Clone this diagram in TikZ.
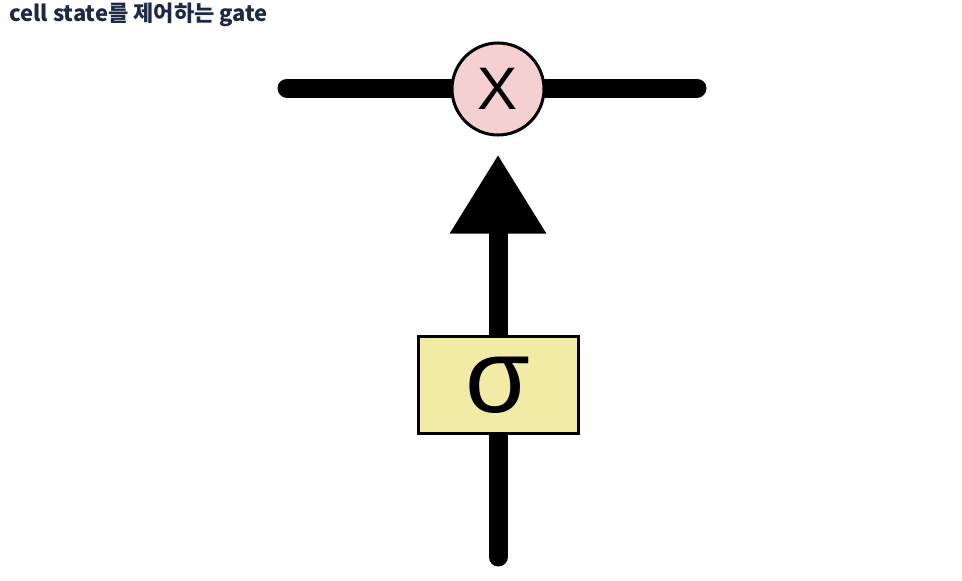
\documentclass[tikz,border=0pt]{standalone}
\usepackage{fontspec}
\setmainfont{Noto Sans CJK KR}
\newfontfamily\glyphfont{Liberation Sans}
\usepackage{xcolor}
\definecolor{titleink}{RGB}{30,42,68}
\definecolor{mulpink}{RGB}{244,208,208}
\definecolor{gateyellow}{RGB}{242,235,166}
\usepackage{tikz}
\usetikzlibrary{arrows.meta,positioning,backgrounds}
\tikzset{
  gate_title/.style={anchor=north west,inner sep=0pt,text=titleink,
    font=\fontsize{22}{25}\selectfont\bfseries},
  gate_op/.style={circle,draw=black,line width=3pt,fill=mulpink,minimum size=92pt,
    inner sep=0pt,font=\glyphfont\fontsize{60}{60}\selectfont},
  gate_layer/.style={rectangle,draw=black,line width=3pt,fill=gateyellow,
    minimum width=160pt,minimum height=97pt,inner sep=0pt,
    font=\glyphfont\fontsize{105}{105}\selectfont},
  flow/.style={line width=19pt,draw=black,line cap=round},
  flow_arr/.style={line width=19pt,draw=black,-{Triangle[length=79pt,width=91pt]}},
}

\begin{document}
\begin{tikzpicture}[x=1pt,y=-1pt]
  \useasboundingbox (0,0) rectangle (962,581);
  \node (title) [gate_title] at (9,3) {cell state를 제어하는 gate};
  \node (mul) [gate_op] at (498,89) {X};
  \node (gate)[gate_layer] at (498,385) {σ};
  \coordinate (cl) at (287,88);
  \coordinate (cr) at (697,88);
  \coordinate (in) at (498,557);
  \begin{pgfonlayer}{background}
    \draw[flow](cl)--(cr);
    \draw[flow](in)--(gate.center);
    \draw[flow_arr,shorten >=18pt](gate.center)--(mul);
  \end{pgfonlayer}
\end{tikzpicture}
\end{document}
